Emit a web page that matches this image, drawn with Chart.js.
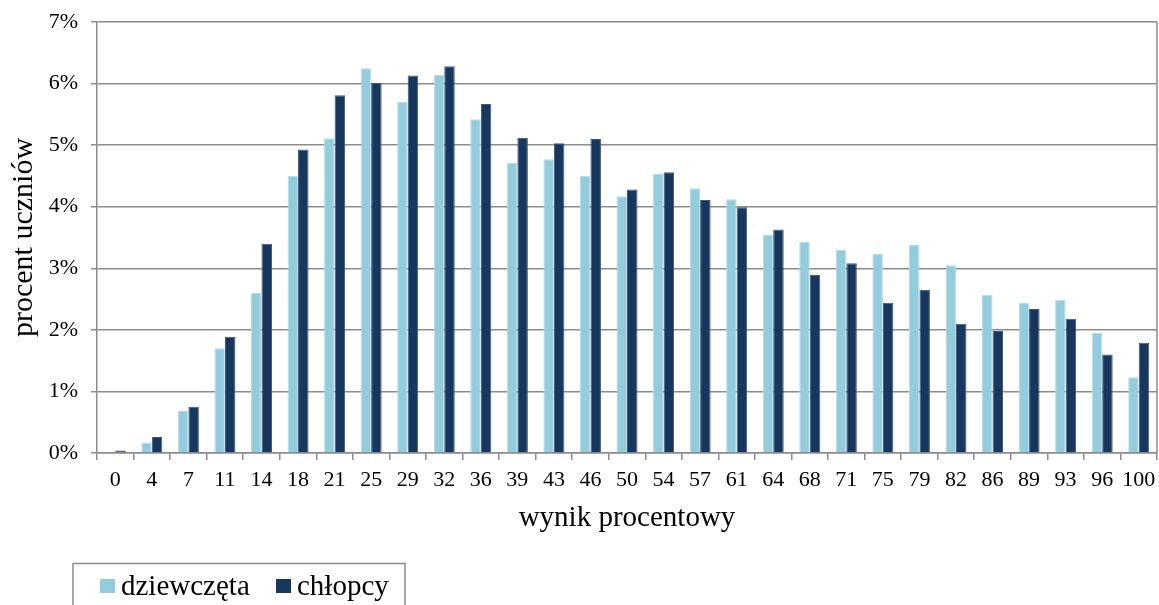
<!DOCTYPE html>
<html lang="pl">
<head>
<meta charset="utf-8">
<title>Rozkład wyników – dziewczęta i chłopcy</title>
<script src="https://cdn.jsdelivr.net/npm/chart.js@4/dist/chart.umd.min.js"></script>
<style>
  html, body { margin: 0; padding: 0; background: #ffffff; }
  #wrap { width: 1159px; height: 605px; position: relative; }
</style>
</head>
<body>
<div id="wrap"><canvas id="chart" width="1159" height="605"></canvas></div>
<script>
// Wynik procentowy (kategorie osi X)
const categories = ['0','4','7','11','14','18','21','25','29','32','36','39','43','46','50',
                    '54','57','61','64','68','71','75','79','82','86','89','93','96','100'];

// Procent uczniów – dziewczęta
const girls = [0.00, 0.17, 0.69, 1.70, 2.60, 4.50, 5.11, 6.25, 5.70, 6.14, 5.42, 4.71, 4.77, 4.50, 4.17,
               4.54, 4.30, 4.12, 3.55, 3.43, 3.30, 3.23, 3.38, 3.05, 2.57, 2.44, 2.49, 1.95, 1.23];

// Procent uczniów – chłopcy
const boys  = [0.04, 0.26, 0.75, 1.89, 3.40, 4.93, 5.81, 6.01, 6.13, 6.28, 5.67, 5.12, 5.03, 5.10, 4.28,
               4.56, 4.11, 3.99, 3.63, 2.89, 3.08, 2.44, 2.65, 2.10, 1.98, 2.34, 2.18, 1.60, 1.79];

// Podziałka osi Y (w procentach)
const yTicks = [0, 1, 2, 3, 4, 5, 6, 7];

const seriesNames = ['dziewczęta', 'chłopcy'];

const FONT = "'Liberation Serif', 'Times New Roman', serif";
const GRID = '#8c8c8c';
const LIGHT = '#93cddd';
const DARK = '#17375e';

// Ramka obszaru wykresu z prawej strony
const rightBorder = {
  id: 'rightBorder',
  afterDatasetsDraw(chart) {
    const { ctx, chartArea: a } = chart;
    ctx.save();
    ctx.strokeStyle = GRID;
    ctx.lineWidth = 1.5;
    ctx.beginPath();
    ctx.moveTo(a.right, a.top);
    ctx.lineTo(a.right, a.bottom);
    ctx.stroke();
    ctx.restore();
  }
};

// Legenda w ramce pod wykresem
const boxedLegend = {
  id: 'boxedLegend',
  afterDraw(chart) {
    const { ctx } = chart;
    ctx.save();
    ctx.strokeStyle = GRID;
    ctx.lineWidth = 1.5;
    ctx.beginPath();
    ctx.moveTo(73, 610);
    ctx.lineTo(73, 563.5);
    ctx.lineTo(405, 563.5);
    ctx.lineTo(405, 610);
    ctx.stroke();

    ctx.font = '29px ' + FONT;
    ctx.textBaseline = 'alphabetic';
    ctx.textAlign = 'left';
    const items = [
      { x: 100, color: chart.data.datasets[0].backgroundColor, label: chart.data.datasets[0].label },
      { x: 276, color: chart.data.datasets[1].backgroundColor, label: chart.data.datasets[1].label }
    ];
    items.forEach(it => {
      ctx.fillStyle = it.color;
      ctx.fillRect(it.x, 579, 15, 14);
      ctx.fillStyle = '#000000';
      ctx.fillText(it.label, it.x + 21, 595);
    });
    ctx.restore();
  }
};

new Chart(document.getElementById('chart'), {
  type: 'bar',
  data: {
    labels: categories,
    datasets: [
      { label: seriesNames[0], data: girls, backgroundColor: LIGHT, borderColor: '#b4dde8', borderWidth: 1 },
      { label: seriesNames[1], data: boys,  backgroundColor: DARK,  borderColor: '#3f5878', borderWidth: 1 }
    ]
  },
  options: {
    responsive: false,
    animation: false,
    devicePixelRatio: 1,
    layout: { padding: { top: 22, right: 2, bottom: 62, left: 0 } },
    datasets: {
      bar: { categoryPercentage: 0.575, barPercentage: 1.0 }
    },
    plugins: {
      legend: { display: false },
      tooltip: { enabled: false }
    },
    scales: {
      x: {
        offset: true,
        afterFit(scale) {
          scale.height = 90;
          scale.paddingLeft = 0;
          scale.paddingRight = 0;
        },
        grid: { drawOnChartArea: false, drawTicks: true, tickLength: 7, color: GRID, lineWidth: 1.5, offset: true },
        border: { display: true, color: GRID, width: 1.5 },
        ticks: { color: '#000000', font: { family: FONT, size: 22 }, padding: 7, maxRotation: 0, autoSkip: false },
        title: {
          display: true, text: 'wynik procentowy', color: '#000000',
          font: { family: FONT, size: 29 }, padding: { top: 0, bottom: 7 }
        }
      },
      y: {
        min: 0, max: 7,
        afterFit(scale) {
          scale.width = 97;
          scale.paddingTop = 0;
          scale.paddingBottom = 0;
        },
        afterBuildTicks(scale) { scale.ticks = yTicks.map(v => ({ value: v })); },
        grid: { color: GRID, lineWidth: 1.5, tickLength: 6, drawTicks: true },
        border: { display: true, color: GRID, width: 1.5 },
        ticks: {
          color: '#000000', font: { family: FONT, size: 22 }, padding: 13,
          callback: v => v + '%'
        },
        title: {
          display: true, text: 'procent uczniów', color: '#000000',
          font: { family: FONT, size: 30 }, padding: { top: 6, bottom: 0 }
        }
      }
    }
  },
  plugins: [rightBorder, boxedLegend]
});
</script>
</body>
</html>
